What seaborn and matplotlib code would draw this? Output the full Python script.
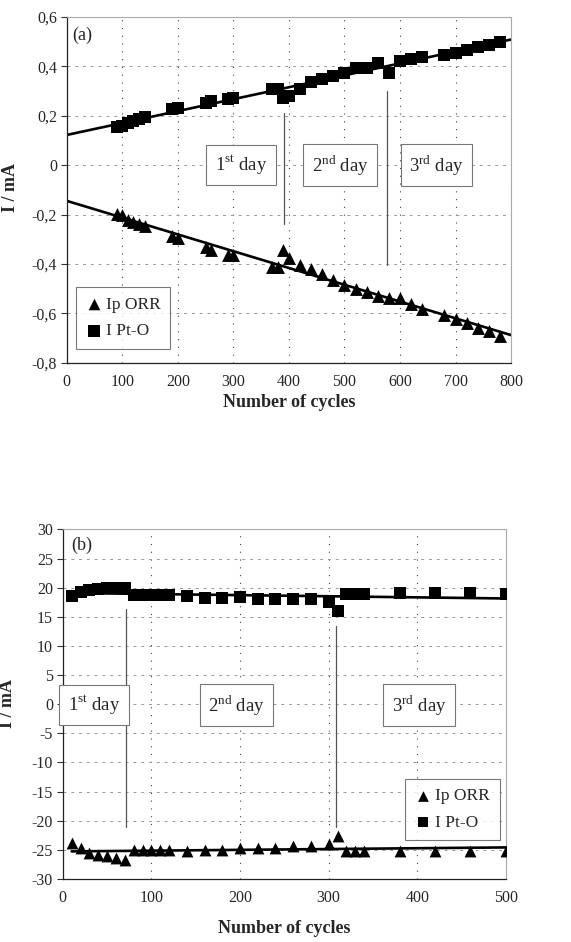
import numpy as np
import pandas as pd
import matplotlib
matplotlib.use('Agg')
import matplotlib.pyplot as plt
import seaborn as sns

# ---- data panel (a) ----
cyc_a = [90, 100, 110, 120, 130, 140, 190, 200, 250, 260, 290, 300, 370, 380, 390, 400,
         420, 440, 460, 480, 500, 520, 540, 560, 580, 600, 620, 640, 680, 700, 720, 740, 760, 780]
pto_a = [0.155, 0.160, 0.170, 0.178, 0.188, 0.196, 0.226, 0.233, 0.252, 0.258, 0.266, 0.270,
         0.308, 0.308, 0.272, 0.280, 0.309, 0.338, 0.348, 0.362, 0.374, 0.392, 0.392, 0.412,
         0.374, 0.420, 0.430, 0.438, 0.445, 0.455, 0.465, 0.478, 0.487, 0.500]
orr_a = [-0.196, -0.204, -0.223, -0.231, -0.238, -0.245, -0.288, -0.295, -0.332, -0.342, -0.362, -0.366,
         -0.412, -0.412, -0.342, -0.378, -0.403, -0.422, -0.442, -0.465, -0.484, -0.500, -0.512, -0.531,
         -0.540, -0.540, -0.564, -0.582, -0.607, -0.625, -0.640, -0.660, -0.672, -0.693]
yticks_a = [0.6, 0.4, 0.2, 0, -0.2, -0.4, -0.6, -0.8]
ylabels_a = ['0,6', '0,4', '0,2', '0', '-0,2', '-0,4', '-0,6', '-0,8']
xticks_a = [0, 100, 200, 300, 400, 500, 600, 700, 800]
days_a = [314, 492, 666]          # label centres
daylines_a = [(392, 0.213, -0.238), (577, 0.30, -0.405)]

# ---- data panel (b) ----
cyc_b = [10, 20, 30, 40, 50, 60, 70, 80, 90, 100, 110, 120, 140, 160, 180, 200, 220, 240,
         260, 280, 300, 310, 320, 330, 340, 380, 420, 460, 500]
pto_b = [18.5, 19.2, 19.6, 19.8, 19.9, 20.0, 20.0, 18.7, 18.7, 18.7, 18.7, 18.7, 18.6, 18.3,
         18.3, 18.4, 18.1, 18.1, 18.1, 18.1, 17.6, 16.0, 18.9, 18.9, 18.9, 19.0, 19.0, 19.0, 18.9]
orr_b = [-23.8, -24.7, -25.6, -25.9, -26.1, -26.5, -26.7, -25.0, -25.0, -25.0, -25.0, -25.1,
         -25.2, -25.0, -25.0, -24.7, -24.7, -24.7, -24.3, -24.3, -24.0, -22.7, -25.2, -25.2,
         -25.2, -25.2, -25.2, -25.2, -25.2]
yticks_b = [30, 25, 20, 15, 10, 5, 0, -5, -10, -15, -20, -25, -30]
xticks_b = [0, 100, 200, 300, 400, 500]
days_b = [35, 196, 402]
daylines_b = [(71, 16.3, -21.1), (308, 13.5, -21.1)]

day_txt = ['1$^{\\mathrm{st}}$ day', '2$^{\\mathrm{nd}}$ day', '3$^{\\mathrm{rd}}$ day']

sns.set_theme(style='white')
plt.rcParams['font.family'] = ['Liberation Serif', 'DejaVu Serif']
plt.rcParams['mathtext.fontset'] = 'custom'
plt.rcParams['mathtext.rm'] = 'Liberation Serif'

fig = plt.figure(figsize=(5.71, 9.42), dpi=100)
ax1 = fig.add_axes([0.117, 0.615, 0.778, 0.367])
ax2 = fig.add_axes([0.110, 0.067, 0.776, 0.371])


def panel(ax, cyc, pto, orr, xlim, ylim, xticks, yticks, ylabels, ms, trunc):
    ax.set_xlim(*xlim)
    ax.set_ylim(*ylim)
    df = pd.DataFrame({'cyc': cyc, 'pto': pto, 'orr': orr})
    sns.scatterplot(data=df, x='cyc', y='orr', marker='^', color='black', s=ms * 1.1,
                    edgecolor='black', linewidth=0, label='Ip ORR', ax=ax, zorder=3)
    sns.scatterplot(data=df, x='cyc', y='pto', marker='s', color='black', s=ms,
                    edgecolor='black', linewidth=0, label='I Pt-O', ax=ax, zorder=3)
    for col in ['pto', 'orr']:
        sns.regplot(data=df, x='cyc', y=col, scatter=False, ci=None, truncate=trunc,
                    color='black', line_kws={'lw': 1.9}, ax=ax)
    ax.set_xlim(*xlim)
    ax.set_ylim(*ylim)
    ax.set_xticks(xticks)
    ax.set_yticks(yticks)
    ax.set_yticklabels(ylabels)
    ax.xaxis.grid(True, color='#444444', linestyle=(0, (1, 6)), lw=0.8)
    ax.yaxis.grid(True, color='#999999', linestyle=(0, (3, 5)), lw=0.7)
    ax.tick_params(axis='y', length=4, width=0.8, color='#333333', labelsize=11.5, pad=3, left=True)
    ax.tick_params(axis='x', length=0, labelsize=11.5, pad=8)
    for s in ['left', 'bottom']:
        ax.spines[s].set_color('#222222')
        ax.spines[s].set_linewidth(0.9)
    for s in ['top', 'right']:
        ax.spines[s].set_color('#aaaaaa')
        ax.spines[s].set_linewidth(0.8)
    ax.set_xlabel('Number of cycles', fontsize=13, fontweight='bold')
    ax.set_ylabel('I / mA', fontsize=13, fontweight='bold')


panel(ax1, cyc_a, pto_a, orr_a, (0, 800), (-0.8, 0.6), xticks_a, yticks_a, ylabels_a, 78, False)
panel(ax2, cyc_b, pto_b, orr_b, (0, 500), (-30, 30), xticks_b, yticks_b,
      [str(v) for v in yticks_b], 66, True)

# day markers and boxes
for ax, lines, centres, yc in [(ax1, daylines_a, days_a, 0.0), (ax2, daylines_b, days_b, -0.2)]:
    for x, y0, y1 in lines:
        ax.plot([x, x], [y0, y1], color='#555555', lw=0.9, zorder=2)
    for x, t in zip(centres, day_txt):
        ax.text(x, yc, t, fontsize=13.5, ha='center', va='center', zorder=4,
                bbox=dict(boxstyle='square,pad=0.45', fc='white', ec='#777777', lw=0.8))

ax1.text(0.012, 0.948, '(a)', transform=ax1.transAxes, fontsize=13, va='center')
ax2.text(0.02, 0.954, '(b)', transform=ax2.transAxes, fontsize=13, va='center')

leg_kw = dict(fontsize=12.5, frameon=True, fancybox=False, edgecolor='#555555', handletextpad=0.2,
              handlelength=1.0, borderpad=0.55, labelspacing=0.6, markerscale=0.9)
l1 = ax1.legend(loc='lower left', bbox_to_anchor=(0.02, 0.04), borderaxespad=0, **leg_kw)
l2 = ax2.legend(loc='lower right', bbox_to_anchor=(0.986, 0.11), borderaxespad=0, **leg_kw)
for l in (l1, l2):
    l.get_frame().set_linewidth(0.8)

ax1.xaxis.set_label_coords(0.5, -0.09)
ax2.xaxis.set_label_coords(0.5, -0.118)
ax1.yaxis.set_label_coords(-0.108, 0.506)
ax2.yaxis.set_label_coords(-0.106, 0.503)

fig.savefig('out.png', dpi=100)
